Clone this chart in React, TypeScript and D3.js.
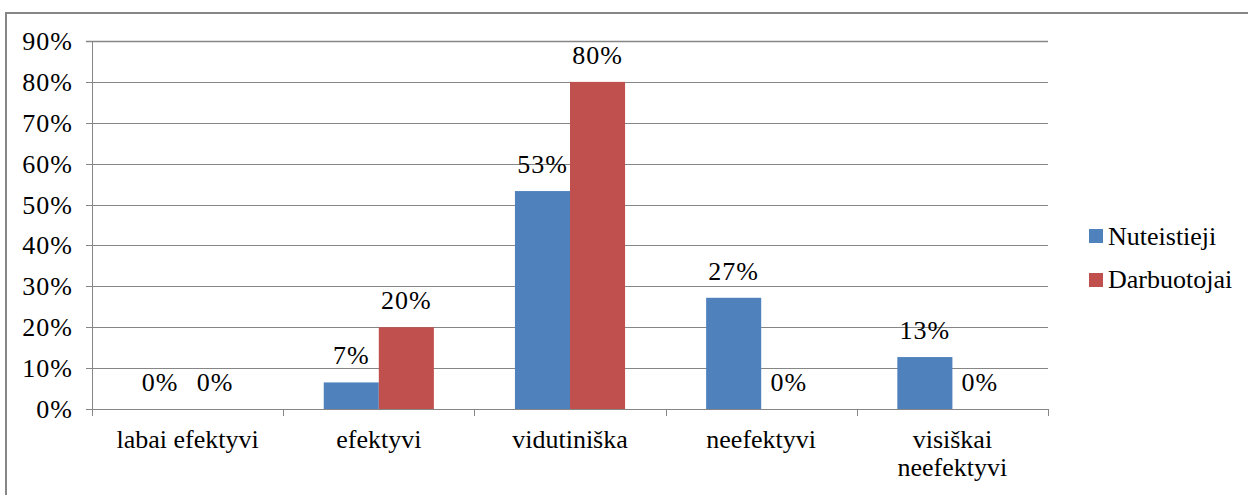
import React from "react";
import * as d3 from "d3";

const categories = ["labai efektyvi", "efektyvi", "vidutiniška", "neefektyvi", "visiškai neefektyvi"];
const categoryLines = [["labai efektyvi"], ["efektyvi"], ["vidutiniška"], ["neefektyvi"], ["visiškai", "neefektyvi"]];
const seriesNames = ["Nuteistieji", "Darbuotojai"];
const nuteistieji = [0, 6.5, 53.3, 27.2, 12.7];
const darbuotojai = [0, 20, 80, 0, 0];
const colors = ["#4F81BD", "#C0504D"];
const yTicks = [0, 10, 20, 30, 40, 50, 60, 70, 80, 90];

const W = 1248;
const H = 495;
const numStyle = { fontFamily: "\"Liberation Serif\"", fontSize: "26px", letterSpacing: "1px" };
const textStyle = { fontFamily: "\"Liberation Serif\"", fontSize: "26px" };

export default function App() {
  const left = 92, right = 1048, top = 41, bottom = 409;
  const x = d3.scaleBand<string>().domain(categories).range([left, right]).paddingInner(0).paddingOuter(0);
  const y = d3.scaleLinear().domain([0, 90]).range([bottom, top]);
  const bw = x.bandwidth();
  const barW = bw * 0.288;
  const x1 = d3.scaleBand<string>().domain(seriesNames).range([0, barW * 2]);
  const series = [nuteistieji, darbuotojai];
  const grid = "#868686";

  return (
    <svg width={W} height={H} style={{ position: "absolute", left: 0, top: 0, background: "#fff" }}>
      <rect x={6} y={13} width={W + 20} height={H + 20} fill="#fff" stroke={grid} strokeWidth={2} />
      {yTicks.map((t) => (
        <g key={t}>
          <line x1={left - 6} x2={right} y1={Math.round(y(t)) + 0.5} y2={Math.round(y(t)) + 0.5} stroke={grid} strokeWidth={t === 90 ? 1.5 : 1} />
          <text x={73} y={y(t) + 9} textAnchor="end" style={numStyle} fill="#000">{t}%</text>
        </g>
      ))}
      <line x1={left + 0.5} x2={left + 0.5} y1={top} y2={bottom + 7} stroke={grid} strokeWidth={1} />
      {categories.map((c, i) => (
        <line key={"tk" + i} x1={Math.round((x(c) as number) + bw) + 0.5} x2={Math.round((x(c) as number) + bw) + 0.5} y1={bottom} y2={bottom + 7} stroke={grid} strokeWidth={1} />
      ))}
      {series.map((vals, si) =>
        vals.map((v, i) => {
          const cx = (x(categories[i]) as number) + bw / 2 - barW;
          const bx = cx + (x1(seriesNames[si]) as number);
          return (
            <g key={si + "-" + i}>
              {v > 0 && <rect x={bx} y={y(v)} width={barW} height={y(0) - y(v)} fill={colors[si]} />}
              <text x={bx + barW / 2} y={y(v) - 18} textAnchor="middle" style={numStyle} fill="#000">
                {Math.round(v)}%
              </text>
            </g>
          );
        })
      )}
      {categoryLines.map((lines, i) => (
        <text key={"cl" + i} x={(x(categories[i]) as number) + bw / 2} y={448} textAnchor="middle" style={textStyle} fill="#000">
          {lines.map((l, j) => (
            <tspan key={j} x={(x(categories[i]) as number) + bw / 2} dy={j === 0 ? 0 : 28}>{l}</tspan>
          ))}
        </text>
      ))}
      {seriesNames.map((n, i) => (
        <g key={n}>
          <rect x={1089} y={229 + i * 44} width={14} height={14} fill={colors[i]} />
          <text x={1108} y={244.5 + i * 43} style={textStyle} fill="#000">{n}</text>
        </g>
      ))}
    </svg>
  );
}
